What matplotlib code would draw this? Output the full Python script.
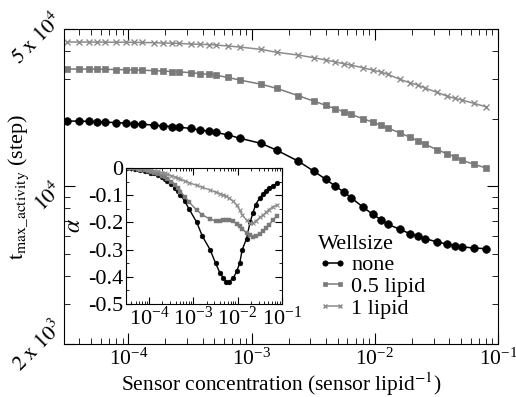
import matplotlib
matplotlib.use("Agg")
import matplotlib.pyplot as plt
import matplotlib.ticker as mticker
import matplotlib.transforms as mtransforms
import numpy as np

plt.rcParams["font.family"] = ["Liberation Serif", "DejaVu Serif"]
plt.rcParams["mathtext.fontset"] = "stix"
plt.rcParams["axes.unicode_minus"] = False

# sensor concentration (sensor lipid^-1), same points for every curve
conc = [3.2e-5, 4e-5, 4.8e-5, 5.6e-5, 6.4e-5, 8e-5, 9.6e-5, 1.12e-4, 1.28e-4,
        1.6e-4, 1.92e-4, 2.24e-4, 2.56e-4, 3.2e-4, 3.84e-4, 4.48e-4, 5.12e-4,
        6.4e-4, 8e-4, 1.2e-3, 1.6e-3, 2.4e-3, 3.2e-3, 4e-3, 4.8e-3, 5.6e-3,
        6.4e-3, 8e-3, 9.6e-3, 1.12e-2, 1.28e-2, 1.6e-2, 1.92e-2, 2.24e-2,
        2.56e-2, 3.2e-2, 3.84e-2, 4.48e-2, 5.12e-2, 6.4e-2, 8e-2]

# t_max_activity (steps)
t_none = [19510, 19510, 19445, 19405, 19307, 19205, 19108, 19011, 18916,
          18720, 18587, 18438, 18341, 18098, 17788, 17605, 17372, 16953,
          16382, 15524, 14488, 12942, 11695, 10765, 10023, 9462, 8933, 8110,
          7534, 7129, 6792, 6457, 6180, 6012, 5875, 5675, 5559, 5470, 5395,
          5333, 5297]
t_half = [33200, 33200, 33200, 33135, 33100, 33037, 32968, 32900, 32832,
          32666, 32531, 32366, 32270, 32003, 31680, 31454, 31166, 30501,
          29670, 28425, 27253, 25269, 23933, 22926, 22122, 21451, 20885,
          20010, 19307, 18720, 18155, 17305, 16558, 15945, 15382, 14571,
          13988, 13536, 13087, 12535, 12095]
t_one = [43770, 43770, 43730, 43730, 43680, 43680, 43640, 43590, 43550,
         43460, 43330, 43240, 43150, 42880, 42760, 42630, 42460, 42020,
         41590, 40580, 39390, 38310, 37270, 36410, 35670, 35060, 34590,
         33650, 32870, 32210, 31450, 29890, 28870, 28190, 27340, 26160,
         25190, 24600, 24180, 23380, 22580]

# alpha (inset)
a_none = [0.0, -0.001, -0.003, -0.005, -0.007, -0.010, -0.013, -0.017, -0.020,
          -0.027, -0.034, -0.041, -0.048, -0.060, -0.072, -0.085, -0.098,
          -0.122, -0.150, -0.200, -0.250, -0.300, -0.350, -0.385, -0.405,
          -0.418, -0.418, -0.405, -0.380, -0.350, -0.300, -0.260, -0.200,
          -0.165, -0.135, -0.110, -0.095, -0.083, -0.075, -0.065, -0.056]
a_half = [0.0, -0.001, -0.002, -0.004, -0.006, -0.008, -0.011, -0.014, -0.017,
          -0.022, -0.028, -0.034, -0.040, -0.050, -0.062, -0.075, -0.087,
          -0.105, -0.125, -0.155, -0.172, -0.188, -0.195, -0.196, -0.193,
          -0.190, -0.191, -0.195, -0.205, -0.215, -0.225, -0.238, -0.248,
          -0.252, -0.250, -0.242, -0.232, -0.222, -0.210, -0.190, -0.175]
a_one = [0.0, -0.001, -0.002, -0.003, -0.004, -0.005, -0.006, -0.008, -0.010,
         -0.013, -0.017, -0.020, -0.023, -0.028, -0.033, -0.038, -0.042,
         -0.048, -0.054, -0.064, -0.071, -0.081, -0.089, -0.094, -0.099,
         -0.104, -0.110, -0.122, -0.137, -0.155, -0.172, -0.192, -0.204,
         -0.203, -0.195, -0.182, -0.172, -0.162, -0.153, -0.142, -0.135]

labels = ["none", "0.5 lipid", "1 lipid"]
colors = ["black", "#7a7a7a", "#8c8c8c"]
markers = ["o", "s", "x"]

ytick_vals = [2e3, 1e4, 5e4]
ytick_text = [r"$2\ \mathrm{x}\ 10^{3}$", r"$10^{4}$", r"$5\ \mathrm{x}\ 10^{4}$"]

fig = plt.figure(figsize=(5.16, 3.97), dpi=100)
ax = fig.add_axes([0.124, 0.1335, 0.841, 0.7935])

sizes = [5.5, 5, 4]
for t, lab, c, m, s in zip([t_none, t_half, t_one], labels, colors, markers, sizes):
    ax.plot(conc, t, color=c, marker=m, ms=s, lw=1.1, label=lab,
            mew=1 if m == "x" else 0.5)

ax.set_xscale("log")
ax.set_yscale("log")
ax.set_xlim(3e-5, 1e-1)
ax.set_ylim(2e3, 5e4)

ax.yaxis.set_major_locator(mticker.FixedLocator(ytick_vals))
ax.yaxis.set_major_formatter(mticker.NullFormatter())
ax.yaxis.set_minor_locator(mticker.FixedLocator(
    [3e3, 4e3, 5e3, 6e3, 7e3, 8e3, 9e3, 2e4, 3e4, 4e4]))
ax.yaxis.set_minor_formatter(mticker.NullFormatter())
ax.xaxis.set_major_locator(mticker.LogLocator(base=10, numticks=10))
ax.xaxis.set_minor_locator(mticker.LogLocator(base=10, subs=np.arange(2, 10), numticks=10))
ax.xaxis.set_minor_formatter(mticker.NullFormatter())

ax.tick_params(which="both", direction="in", top=True, right=True, labelsize=15.5)
ax.tick_params(which="major", length=8)
ax.tick_params(which="minor", length=4)

# rotated y tick labels, placed by hand
ytrans = mtransforms.blended_transform_factory(ax.transAxes, ax.transData)
yshift = [20, 0, 12]
for v, s, dy in zip(ytick_vals, ytick_text, yshift):
    tr = mtransforms.offset_copy(ytrans, fig=fig, x=-4, y=dy, units="dots")
    ax.text(0, v, s, transform=tr, rotation=45, rotation_mode="anchor",
            ha="right", va="center", fontsize=15.5)

ax.set_xlabel(r"Sensor concentration (sensor lipid$^{-1}$)", fontsize=15.5, labelpad=0)
ax.set_ylabel(r"$\mathrm{t_{max\_activity}}$ (step)", fontsize=16)
ax.yaxis.set_label_coords(-0.075, 0.5)

leg = ax.legend(title="Wellsize", loc="lower left", bbox_to_anchor=(0.585, 0.08),
                frameon=False, fontsize=16, title_fontsize=16, numpoints=2,
                handlelength=1.3, handletextpad=0.2, labelspacing=0.05,
                borderpad=0, borderaxespad=0, markerscale=0.7)
leg._legend_box.align = "left"

# inset
ins = fig.add_axes([0.244, 0.234, 0.302, 0.343])
isizes = [3.5, 3, 3]
for a, c, m, s in zip([a_none, a_half, a_one], colors, markers, isizes):
    ins.plot(conc, a, color=c, marker=m, ms=s, lw=1.0, mew=0.8 if m == "x" else 0.3)
ins.set_xscale("log")
ins.set_xlim(3e-5, 1e-1)
ins.set_ylim(-0.5, 0)
ins.yaxis.set_major_locator(mticker.MultipleLocator(0.1))
ins.yaxis.set_minor_locator(mticker.MultipleLocator(0.05))
ins.yaxis.set_major_formatter(mticker.FuncFormatter(
    lambda v, p: "0" if abs(v) < 1e-9 else "%.1f" % v))
ins.xaxis.set_major_locator(mticker.LogLocator(base=10, numticks=10))
ins.xaxis.set_minor_locator(mticker.LogLocator(base=10, subs=np.arange(2, 10), numticks=10))
ins.xaxis.set_minor_formatter(mticker.NullFormatter())
ins.tick_params(which="both", direction="in", top=True, right=True, labelsize=16, pad=2)
ins.tick_params(which="major", length=5)
ins.tick_params(which="minor", length=2.5)
ins.set_ylabel(r"$\alpha$", fontsize=17)
ins.yaxis.set_label_coords(-0.26, 0.58)

fig.savefig("out.png", dpi=100)
